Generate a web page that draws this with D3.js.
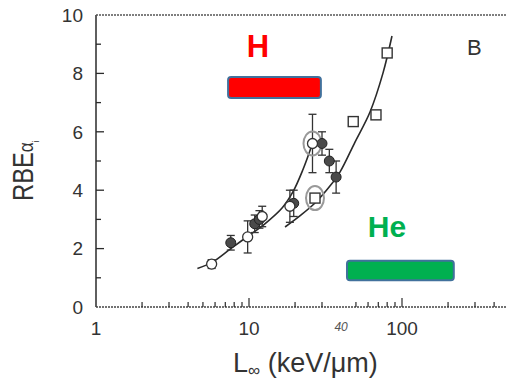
<!DOCTYPE html>
<html>
<head>
<meta charset="utf-8">
<script src="https://cdn.jsdelivr.net/npm/d3@7"></script>
<style>
  body { margin: 0; background: #fff; }
  text { font-family: "Liberation Sans", Arial, sans-serif; fill: #333; }
</style>
</head>
<body>
<script>
var svgWidth = 507;
var svgHeight = 380;

var margin = {top: 15, right: 0, bottom: 73, left: 96};

// data: LET (keV/um) and RBE
var openCircles = [
  {L: 5.7, rbe: 1.47, err: 0.15},
  {L: 9.8, rbe: 2.40, err: 0.55},
  {L: 12.2, rbe: 3.1, err: 0.35},
  {L: 18.5, rbe: 3.45, err: 0.55},
  {L: 26.0, rbe: 5.6, err: 1.0}
];
var filledCircles = [
  {L: 7.6, rbe: 2.2, err: 0.25},
  {L: 10.9, rbe: 2.85, err: 0.3},
  {L: 11.7, rbe: 3.0, err: 0.3},
  {L: 19.6, rbe: 3.55, err: 0.45},
  {L: 30.0, rbe: 5.6, err: 0.4},
  {L: 33.5, rbe: 5.0, err: 0.4},
  {L: 37.1, rbe: 4.45, err: 0.55}
];
var squares = [
  {L: 27.0, rbe: 3.73},
  {L: 48.0, rbe: 6.35},
  {L: 67.6, rbe: 6.58},
  {L: 80.0, rbe: 8.7}
];
var circled = [
  {L: 26.0, rbe: 5.6},
  {L: 27.0, rbe: 3.73}
];
var curveA = [
  {L: 4.6, rbe: 1.32}, {L: 5.7, rbe: 1.52}, {L: 7.6, rbe: 2.0},
  {L: 9.8, rbe: 2.42}, {L: 12.7, rbe: 2.85}, {L: 16.5, rbe: 3.4},
  {L: 19.4, rbe: 3.95}, {L: 22.5, rbe: 4.7}, {L: 26.0, rbe: 5.6}
];
var curveB = [
  {L: 17.2, rbe: 2.74}, {L: 21.5, rbe: 3.12}, {L: 27.0, rbe: 3.56},
  {L: 33.8, rbe: 4.14}, {L: 39.3, rbe: 4.62}, {L: 49.3, rbe: 5.65},
  {L: 61.8, rbe: 6.68}, {L: 75.1, rbe: 8.01}, {L: 86.0, rbe: 9.28}
];
// LET ranges of the ions, drawn as bars
var ionBars = [
  {name: "H", L0: 7.3, L1: 29.5, y0: 7.88, y1: 7.16, color: "#ff0000"},
  {name: "He", L0: 43.7, L1: 218, y0: 1.58, y1: 0.92, color: "#00b050"}
];
var xMajor = [1, 10, 100];
var xMinor = [2, 3, 4, 5, 6, 7, 8, 9, 20, 30, 50, 60, 70, 80, 90, 200, 300, 400];
var yTicks = [0, 1, 2, 3, 4, 5, 6, 7, 8, 9, 10];
var yLabels = [0, 2, 4, 6, 8, 10];

var svg = d3.select("body").append("svg")
  .attr("width", svgWidth)
  .attr("height", svgHeight);

var height = svgHeight - margin.top - margin.bottom;

var x = d3.scaleLog().domain([1, 100]).range([0, 306]);
var y = d3.scaleLinear().domain([0, 10]).range([height, 0]);

var g = svg.append("g")
  .attr("transform", "translate(" + margin.left + "," + margin.top + ")");

var ink = "#2a2a2a";

// frame: solid left axis, dotted top and bottom
g.append("line").attr("x1", 0).attr("x2", 0).attr("y1", 0).attr("y2", height)
  .attr("stroke", ink).attr("stroke-width", 1.5);
g.append("line").attr("x1", 0).attr("x2", svgWidth).attr("y1", 0).attr("y2", 0)
  .attr("stroke", "#555").attr("stroke-width", 1.3).attr("stroke-dasharray", "2,1");
g.append("line").attr("x1", 0).attr("x2", svgWidth).attr("y1", height).attr("y2", height)
  .attr("stroke", "#444").attr("stroke-width", 1.3).attr("stroke-dasharray", "2,1");

// y ticks pointing inward
var yAxis = d3.axisLeft(y).tickValues(yTicks)
  .tickSize(0).tickFormat("");
g.append("g").call(yAxis).call(function (a) { a.select(".domain").remove(); });
g.selectAll(".ytick").data(yTicks.slice(1, -1)).enter().append("line")
  .attr("x1", 0)
  .attr("x2", function (d) { return d % 2 === 0 ? 8 : 5; })
  .attr("y1", function (d) { return y(d); })
  .attr("y2", function (d) { return y(d); })
  .attr("stroke", ink).attr("stroke-width", 1.3);
g.selectAll(".ylab").data(yLabels).enter().append("text")
  .attr("x", -13)
  .attr("y", function (d) { return y(d); })
  .attr("dy", "0.36em")
  .attr("text-anchor", "end")
  .style("font-size", "19px")
  .text(function (d) { return d; });

// x ticks pointing inward
var xAxis = d3.axisBottom(x).tickValues(xMajor.concat(xMinor))
  .tickSizeInner(0).tickFormat("");
g.append("g").attr("transform", "translate(0," + height + ")").call(xAxis)
  .call(function (a) { a.select(".domain").remove(); });
g.selectAll(".xtick").data(xMajor.slice(1).concat(xMinor)).enter().append("line")
  .attr("x1", function (d) { return x(d); })
  .attr("x2", function (d) { return x(d); })
  .attr("y1", height)
  .attr("y2", function (d) { return xMajor.indexOf(d) >= 0 ? height - 9 : height - 5; })
  .attr("stroke", ink).attr("stroke-width", 1.2);
g.selectAll(".xlab").data(xMajor).enter().append("text")
  .attr("x", function (d) { return x(d); })
  .attr("y", height + 28)
  .attr("text-anchor", "middle")
  .style("font-size", "19px")
  .text(function (d) { return d; });
g.append("text")
  .attr("x", x(40)).attr("y", height + 24)
  .attr("text-anchor", "middle")
  .style("font-size", "12px").style("font-style", "italic").style("fill", "#555")
  .text("40");

// axis titles (tall, narrow lettering)
var yt = svg.append("text")
  .attr("transform", "translate(33,201) rotate(-90) scale(0.82,1)")
  .attr("text-anchor", "start")
  .style("font-size", "29px");
yt.append("tspan").text("RBE");
yt.append("tspan").text("α").style("font-size", "21px");
yt.append("tspan").text("i").attr("dy", 6).style("font-size", "9px");

var xt = svg.append("text")
  .attr("x", 233).attr("y", 372)
  .style("font-size", "27px");
xt.append("tspan").text("L");
xt.append("tspan").text("∞").attr("dy", 4).style("font-size", "17px");
xt.append("tspan").text(" (keV/μm)").attr("dy", -4);

svg.append("text").attr("x", 467).attr("y", 55)
  .style("font-size", "22px").text("B");

// fitted curves
var line = d3.line()
  .x(function (d) { return x(d.L); })
  .y(function (d) { return y(d.rbe); })
  .curve(d3.curveCatmullRom);
[curveA, curveB].forEach(function (c) {
  g.append("path").datum(c).attr("d", line)
    .attr("fill", "none").attr("stroke", ink).attr("stroke-width", 1.6);
});

// error bars
function errorBars(data) {
  var eb = g.append("g").attr("stroke", "#333").attr("stroke-width", 1.3);
  data.forEach(function (d) {
    var cx = x(d.L);
    eb.append("line").attr("x1", cx).attr("x2", cx)
      .attr("y1", y(d.rbe - d.err)).attr("y2", y(d.rbe + d.err));
    [d.rbe - d.err, d.rbe + d.err].forEach(function (v) {
      eb.append("line").attr("x1", cx - 4).attr("x2", cx + 4)
        .attr("y1", y(v)).attr("y2", y(v));
    });
  });
}
errorBars(openCircles);
errorBars(filledCircles);

// gray circled points
g.selectAll(".ring").data(circled).enter().append("ellipse")
  .attr("cx", function (d) { return x(d.L); })
  .attr("cy", function (d) { return y(d.rbe); })
  .attr("rx", 9).attr("ry", 12)
  .attr("fill", "none").attr("stroke", "#999").attr("stroke-width", 2);

g.selectAll(".filled").data(filledCircles).enter().append("circle")
  .attr("cx", function (d) { return x(d.L); })
  .attr("cy", function (d) { return y(d.rbe); })
  .attr("r", 5)
  .attr("fill", "#4a4a4a").attr("stroke", "#222").attr("stroke-width", 1);

g.selectAll(".open").data(openCircles).enter().append("circle")
  .attr("cx", function (d) { return x(d.L); })
  .attr("cy", function (d) { return y(d.rbe); })
  .attr("r", 5)
  .attr("fill", "#fff").attr("stroke", "#333").attr("stroke-width", 1.3);

g.selectAll(".sq").data(squares).enter().append("rect")
  .attr("x", function (d) { return x(d.L) - 5; })
  .attr("y", function (d) { return y(d.rbe) - 5; })
  .attr("width", 10).attr("height", 10)
  .attr("fill", "#fff").attr("stroke", "#333").attr("stroke-width", 1.4);

// ion LET bars and labels
g.selectAll(".bar").data(ionBars).enter().append("rect")
  .attr("x", function (d) { return x(d.L0); })
  .attr("y", function (d) { return y(d.y0); })
  .attr("width", function (d) { return x(d.L1) - x(d.L0); })
  .attr("height", function (d) { return y(d.y1) - y(d.y0); })
  .attr("rx", 3).attr("ry", 3)
  .attr("fill", function (d) { return d.color; })
  .attr("stroke", "#41719c").attr("stroke-width", 2);

svg.append("text").attr("x", 258).attr("y", 57)
  .attr("text-anchor", "middle")
  .style("font-size", "31px").style("font-weight", "bold").style("fill", "#ff0000")
  .text("H");
svg.append("text").attr("x", 387).attr("y", 237)
  .attr("text-anchor", "middle")
  .style("font-size", "30px").style("font-weight", "bold").style("fill", "#00b050")
  .text("He");
</script>
</body>
</html>
